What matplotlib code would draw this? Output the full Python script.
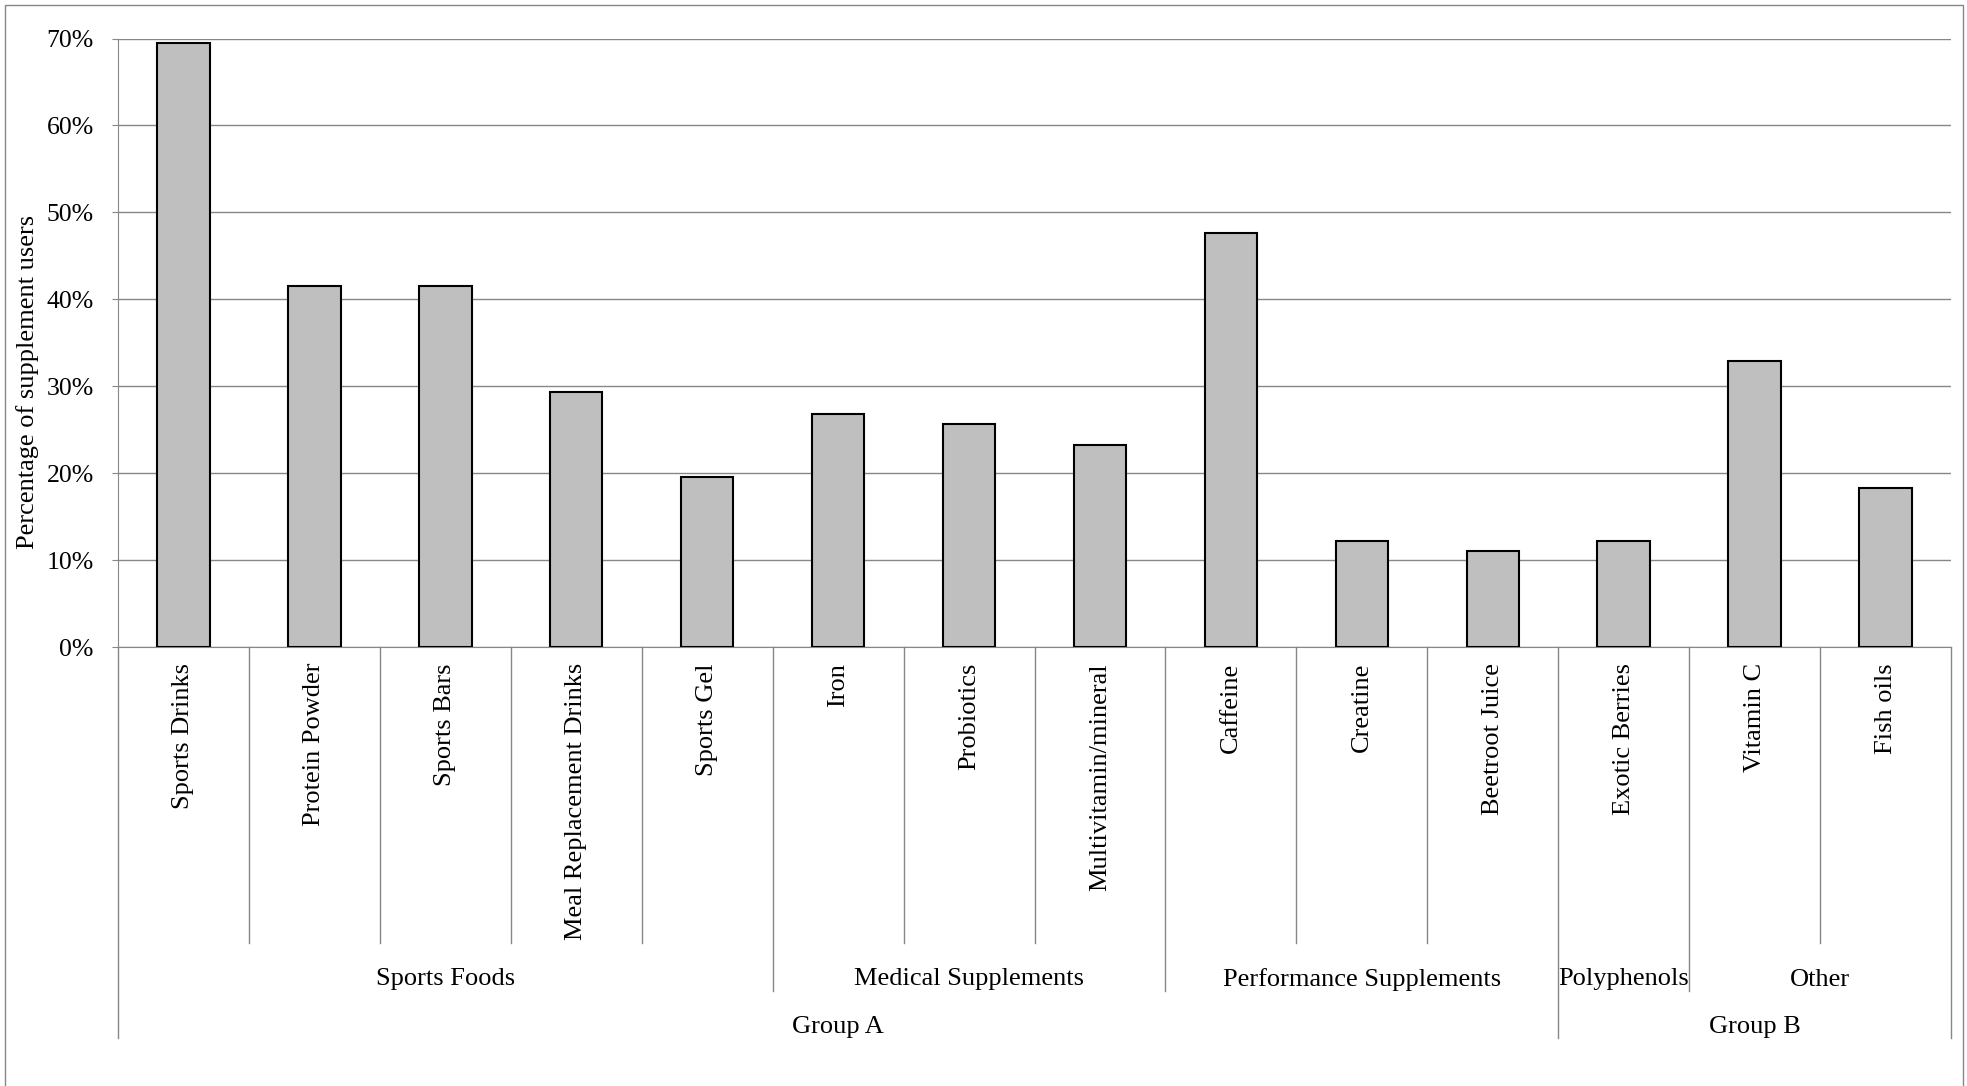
import numpy as np
import matplotlib
matplotlib.use("Agg")
from matplotlib import pyplot as plt
from matplotlib.transforms import blended_transform_factory
from matplotlib.lines import Line2D

plt.rcParams['font.family'] = ['Liberation Serif', 'DejaVu Serif']

#? supplement usage (% of supplement users)
categories = ["Sports Drinks", "Protein Powder", "Sports Bars", "Meal Replacement Drinks", "Sports Gel",
              "Iron", "Probiotics", "Multivitamin/mineral",
              "Caffeine", "Creatine", "Beetroot Juice",
              "Exotic Berries",
              "Vitamin C", "Fish oils"]
values = [69.5, 41.5, 41.5, 29.3, 19.5,
          26.8, 25.6, 23.2,
          47.6, 12.2, 11.0,
          12.2,
          32.9, 18.3]
# second and third level of the category axis (name, number of categories)
subgroups = [("Sports Foods", 5), ("Medical Supplements", 3), ("Performance Supplements", 3),
             ("Polyphenols", 1), ("Other", 2)]
groups = [("Group A", 11), ("Group B", 3)]
y_ticks = [0, 10, 20, 30, 40, 50, 60, 70]

# canvas size in pixels
W = 1967; H = 1086
grey = "#878787"

def fy(px):
    # pixel row (from top) -> figure fraction
    return 1 - px / H

fig = plt.figure(figsize=(W / 100, H / 100), dpi=100)
ax = fig.add_axes([118 / W, fy(647), (1951 - 118) / W, (647 - 38.5) / H])

x = np.arange(len(categories))
ax.bar(x, values, width=0.4, color="#bfbfbf", edgecolor="black", linewidth=1.5, zorder=3)

ax.set_xlim(-0.5, len(categories) - 0.5)
ax.set_ylim(0, 70)
ax.set_yticks(y_ticks)
ax.set_yticklabels([f"{v}%" for v in y_ticks])
ax.yaxis.grid(True, color=grey, linewidth=1.0, zorder=0)
ax.set_axisbelow(True)
for s in ["top", "right"]:
    ax.spines[s].set_visible(False)
ax.spines["left"].set_color(grey); ax.spines["bottom"].set_color(grey)
ax.tick_params(axis="y", direction="out", length=4.5, color=grey, labelsize=18.5, pad=13)
ax.tick_params(axis="x", length=0, labelbottom=False)

# y label
fig.text(27.6 / W, fy(382), "Percentage of supplement users", rotation=90,
         ha="center", va="center", fontsize=19)

# x positions in data units, y in figure units
trans = blended_transform_factory(ax.transData, fig.transFigure)

# category names
for i, name in enumerate(categories):
    ax.text(i, fy(663), name, rotation=90, ha="center", va="top", fontsize=19, transform=trans)

# separator lines of the multi-level axis
lvl2 = np.cumsum([0] + [n for _, n in subgroups])
lvl3 = np.cumsum([0] + [n for _, n in groups])
for k in range(len(categories) + 1):
    if k in lvl3:
        end = 1038
    elif k in lvl2:
        end = 991
    else:
        end = 943
    ax.add_line(Line2D([k - 0.5, k - 0.5], [fy(647), fy(end)], transform=trans,
                       color=grey, linewidth=1.0, clip_on=False))

# group labels
for (name, n), start in zip(subgroups, lvl2[:-1]):
    ax.text(start + n / 2 - 0.5, fy(979.5), name, ha="center", va="center", fontsize=19, transform=trans)
for (name, n), start in zip(groups, lvl3[:-1]):
    ax.text(start + n / 2 - 0.5, fy(1027.5), name, ha="center", va="center", fontsize=19, transform=trans)

# outer frame (left, top, right)
fig.add_artist(Line2D([5 / W, 5 / W, 1963 / W, 1963 / W], [0, fy(5), fy(5), 0],
                      transform=fig.transFigure, color=grey, linewidth=1.0))

fig.savefig("out.png", dpi=100)
